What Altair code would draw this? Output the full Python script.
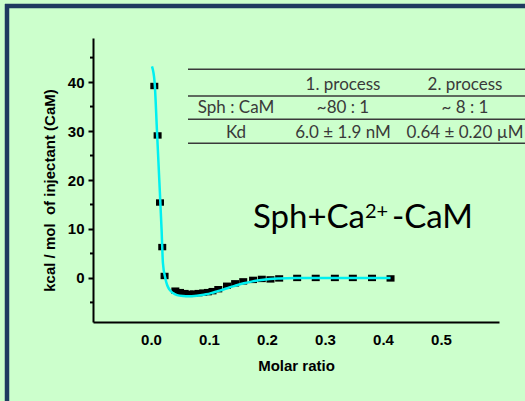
import altair as alt
import pandas as pd

# ---- data ----
ratio = [0.0057, 0.0114, 0.0155, 0.0194, 0.0234, 0.042, 0.050, 0.058, 0.066, 0.074,
         0.082, 0.090, 0.098, 0.106, 0.116, 0.131, 0.145, 0.159, 0.176, 0.191,
         0.206, 0.221, 0.252, 0.284, 0.317, 0.348, 0.381, 0.413]
heat = [39.2, 29.1, 15.4, 6.3, 0.4, -2.6, -2.9, -3.1, -3.25, -3.2,
        -3.1, -3.0, -2.9, -2.7, -2.3, -1.6, -1.1, -0.7, -0.4, -0.2,
        -0.3, -0.1, 0.0, 0.0, 0.0, 0.0, 0.0, -0.1]

fit_ratio = [0.0017, 0.0062, 0.0103, 0.0143, 0.0182, 0.0206, 0.0246, 0.028, 0.032, 0.038,
             0.045, 0.055, 0.065, 0.075, 0.085, 0.095, 0.105, 0.115, 0.125, 0.135,
             0.145, 0.16, 0.175, 0.19, 0.205, 0.222, 0.25, 0.3, 0.35, 0.413]
fit_heat = [43.2, 40.0, 30.0, 20.0, 10.0, 3.0, 0.0, -1.5, -2.4, -3.1,
            -3.5, -3.7, -3.75, -3.7, -3.55, -3.35, -3.05, -2.7, -2.35, -1.95,
            -1.6, -1.1, -0.7, -0.4, -0.2, -0.1, -0.03, 0.0, 0.0, 0.0]

x_ticks = [0.0, 0.1, 0.2, 0.3, 0.4, 0.5]
y_ticks = [0, 10, 20, 30, 40]
y_minor = [-5, 5, 15, 25, 35, 45]

table_header = ["", "1. process", "2. process"]
table_row1 = ["Sph : CaM", "~80 : 1", "~ 8 : 1"]
table_row2 = ["Kd", "6.0 ± 1.9 nM", "0.64 ± 0.20 µM"]
label_parts = ["Sph+Ca", "2+", "-CaM"]

W, H = 406, 284
BG = "#ccffcc"
NAVY = "#1f3a60"
GREY = "#3a3a3a"

pts = pd.DataFrame({"ratio": ratio, "heat": heat})
fit = pd.DataFrame({"ratio": fit_ratio, "heat": fit_heat})
minor = pd.DataFrame({"heat": y_minor})

xscale = alt.Scale(domain=[-0.1, 0.6], nice=False, zero=False)
yscale = alt.Scale(domain=[-9, 49], nice=False, zero=False)

xaxis = alt.Axis(values=x_ticks, format=".1f", title="Molar ratio",
                 ticks=False, tickSize=0, labelPadding=10, grid=False,
                 labelFont="Liberation Sans", labelFontWeight="bold", labelFontSize=15,
                 titleFont="Liberation Sans", titleFontWeight="bold", titleFontSize=15,
                 titleBaseline="alphabetic", titleY=48,
                 domainColor="black", domainWidth=2, labelColor="black", titleColor="black")
yaxis = alt.Axis(values=y_ticks, title="kcal / mol\u00a0 of injectant (CaM)",
                 tickSize=5, tickWidth=2, tickColor="black", labelPadding=4, grid=False,
                 labelFont="Liberation Sans", labelFontWeight="bold", labelFontSize=15,
                 titleFont="Liberation Sans", titleFontWeight="bold", titleFontSize=15,
                 titleAngle=270, titleX=-36, titleY=152, titleBaseline="bottom",
                 domainColor="black", domainWidth=2, labelColor="black", titleColor="black")

square = "M-1,-0.8L1,-0.8L1,0.8L-1,0.8Z"
points = alt.Chart(pts).mark_point(shape=square, filled=True, size=64, color="black",
                                   opacity=1).encode(
    x=alt.X("ratio:Q", scale=xscale, axis=xaxis),
    y=alt.Y("heat:Q", scale=yscale, axis=yaxis),
)
curve = alt.Chart(fit).mark_line(color="#00f0f0", strokeWidth=2.5,
                                 interpolate="monotone").encode(
    x=alt.X("ratio:Q", scale=xscale),
    y=alt.Y("heat:Q", scale=yscale),
)
minor_ticks = alt.Chart(minor).mark_rule(color="black", strokeWidth=2).encode(
    x=alt.value(-3), x2=alt.value(0),
    y=alt.Y("heat:Q", scale=yscale),
)

one = pd.DataFrame({"k": [0]})
layers = []

# frame (top and left edges of the slide box)
layers.append(alt.Chart(one).mark_rule(color=NAVY, strokeWidth=4.5).encode(
    x=alt.value(-86), y=alt.value(-34), y2=alt.value(H + 80)))
layers.append(alt.Chart(one).mark_rule(color=NAVY, strokeWidth=4.5).encode(
    x=alt.value(-88), x2=alt.value(W + 40), y=alt.value(-32)))

# table rules
for ly in [31.3, 58, 81.3, 105.3]:
    layers.append(alt.Chart(one).mark_rule(color=GREY, strokeWidth=1.5).encode(
        x=alt.value(95), x2=alt.value(W + 40), y=alt.value(ly)))

# table text
col_x = [143, 250, 372]
row_y = [47, 70, 94.7]
for ry, row in zip(row_y, [table_header, table_row1, table_row2]):
    for cx, txt in zip(col_x, row):
        if not txt:
            continue
        layers.append(alt.Chart(pd.DataFrame({"t": [txt]})).mark_text(
            font="Lato", fontSize=17, color=GREY, align="center", baseline="middle"
        ).encode(x=alt.value(cx), y=alt.value(ry), text="t:N"))

# big label
layers.append(alt.Chart(pd.DataFrame({"t": [label_parts[0]]})).mark_text(
    font="Lato", fontSize=33, color="black", align="right", baseline="alphabetic"
).encode(x=alt.value(272), y=alt.value(190), text="t:N"))
layers.append(alt.Chart(pd.DataFrame({"t": [label_parts[1]]})).mark_text(
    font="Lato", fontSize=20, color="black", align="left", baseline="alphabetic"
).encode(x=alt.value(272), y=alt.value(180), text="t:N"))
layers.append(alt.Chart(pd.DataFrame({"t": [label_parts[2]]})).mark_text(
    font="Lato", fontSize=33, color="black", align="left", baseline="alphabetic"
).encode(x=alt.value(299), y=alt.value(190), text="t:N"))

chart = alt.layer(points, curve, minor_ticks, *layers).properties(
    width=W, height=H,
    background=BG,
    padding={"left": 93, "top": 38, "right": 26, "bottom": 79},
    autosize=alt.AutoSizeParams(type="none"),
).configure_view(strokeOpacity=0)

chart.save("out.html", embed_options={"renderer": "svg", "actions": False})
